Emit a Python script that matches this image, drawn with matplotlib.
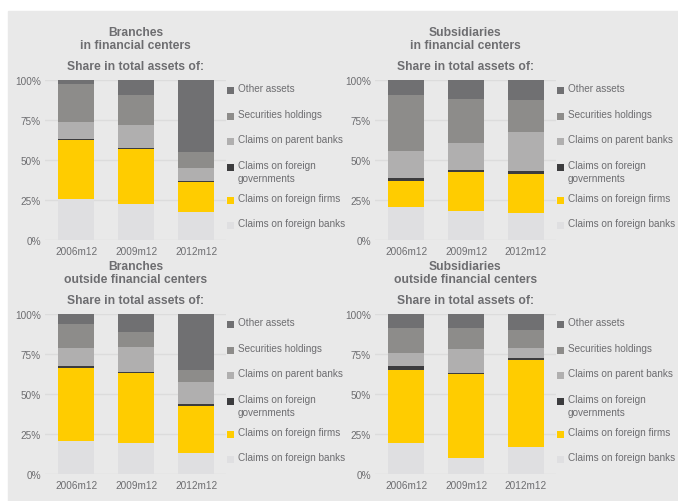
import numpy as np
import matplotlib
matplotlib.use('Agg')
import matplotlib.pyplot as plt
from matplotlib.patches import Rectangle

plt.rcParams['font.family'] = ['Liberation Sans', 'DejaVu Sans']

# categories and series (bottom to top)
years = ['2006m12', '2009m12', '2012m12']
series = ['Claims on foreign banks', 'Claims on foreign firms',
          'Claims on foreign\ngovernments', 'Claims on parent banks',
          'Securities holdings', 'Other assets']

# shares in %, one row per series, one column per year
branches_fc = [[25.6, 22.5, 17.5],
               [37.1, 34.6, 18.8],
               [0.5, 0.6, 0.6],
               [10.6, 14.2, 8.1],
               [23.8, 18.7, 10.0],
               [2.4, 9.4, 45.0]]
subsidiaries_fc = [[20.6, 18.1, 16.9],
                   [16.3, 24.4, 24.4],
                   [1.9, 1.2, 1.8],
                   [16.8, 16.9, 24.4],
                   [35.0, 27.5, 20.0],
                   [9.4, 11.9, 12.5]]
branches_out = [[20.6, 19.4, 13.1],
                [45.6, 43.7, 29.4],
                [1.3, 0.6, 1.2],
                [11.3, 15.7, 13.8],
                [15.0, 9.3, 7.5],
                [6.2, 11.3, 35.0]]
subsidiaries_out = [[19.4, 10.0, 16.9],
                    [45.6, 52.5, 54.4],
                    [2.5, 0.6, 1.2],
                    [8.1, 15.0, 6.2],
                    [15.7, 13.2, 11.3],
                    [8.7, 8.7, 10.0]]

colors = ['#dfdfe1', '#ffcc00', '#3c3c3e', '#b0afaf', '#8d8c8a', '#707072']
txt = '#6d6d70'
bg = '#e9e9e9'
grid_c = '#dcdcdc'

fig = plt.figure(figsize=(6.78, 5.02), dpi=100)
fig.patch.set_facecolor('white')
fig.patches.append(Rectangle((8 / 678, 0), 1, (502 - 12) / 502,
                             transform=fig.transFigure, color=bg, zorder=-10))

panels = [
    ('Branches\nin financial centers', branches_fc, [0.0664, 0.520]),
    ('Subsidiaries\nin financial centers', subsidiaries_fc, [0.553, 0.520]),
    ('Branches\noutside financial centers', branches_out, [0.0664, 0.0538]),
    ('Subsidiaries\noutside financial centers', subsidiaries_out, [0.553, 0.0538]),
]

# legend rows (axes fraction), top entry first
leg_y = [0.95, 0.788, 0.631, 0.469, 0.263, 0.106]

for title, data, (left, bottom) in panels:
    ax = fig.add_axes([left, bottom, 0.267, 0.3187])
    ax.set_facecolor('none')
    x = np.arange(len(years))
    base = np.zeros(len(years))
    for vals, col in zip(data, colors):
        ax.bar(x, vals, 0.6, bottom=base, color=col, linewidth=0, zorder=3)
        base += np.array(vals)
    ax.set_xlim(-0.52, 2.5)
    ax.set_ylim(0, 100)
    ax.set_yticks([0, 25, 50, 75, 100])
    ax.set_yticklabels(['0%', '25%', '50%', '75%', '100%'])
    ax.set_xticks(x)
    ax.set_xticklabels(years)
    ax.tick_params(length=0, colors=txt, labelsize=7.2)
    ax.tick_params(axis='y', pad=3)
    ax.tick_params(axis='x', pad=4)
    ax.grid(axis='y', color=grid_c, linewidth=1, zorder=0)
    for s in ax.spines.values():
        s.set_visible(False)

    ax.text(0.5, 1.26, title, transform=ax.transAxes, ha='center',
            va='center', fontsize=8.7, fontweight='bold', color=txt,
            linespacing=1.15)
    ax.text(0.5, 1.088, 'Share in total assets of:', transform=ax.transAxes,
            ha='center', va='center', fontsize=8.7, fontweight='bold',
            color=txt)

    for name, col, yy in zip(series[::-1], colors[::-1], leg_y):
        ax.add_patch(Rectangle((1.006, yy - 0.04), 0.038, 0.044,
                               transform=ax.transAxes, color=col,
                               clip_on=False, linewidth=0))
        two = '\n' in name
        ax.text(1.066, yy + 0.03 if two else yy, name,
                transform=ax.transAxes, ha='left',
                va='top' if two else 'center',
                fontsize=7.2, color=txt, linespacing=1.35)

fig.savefig('out.png', dpi=100)
